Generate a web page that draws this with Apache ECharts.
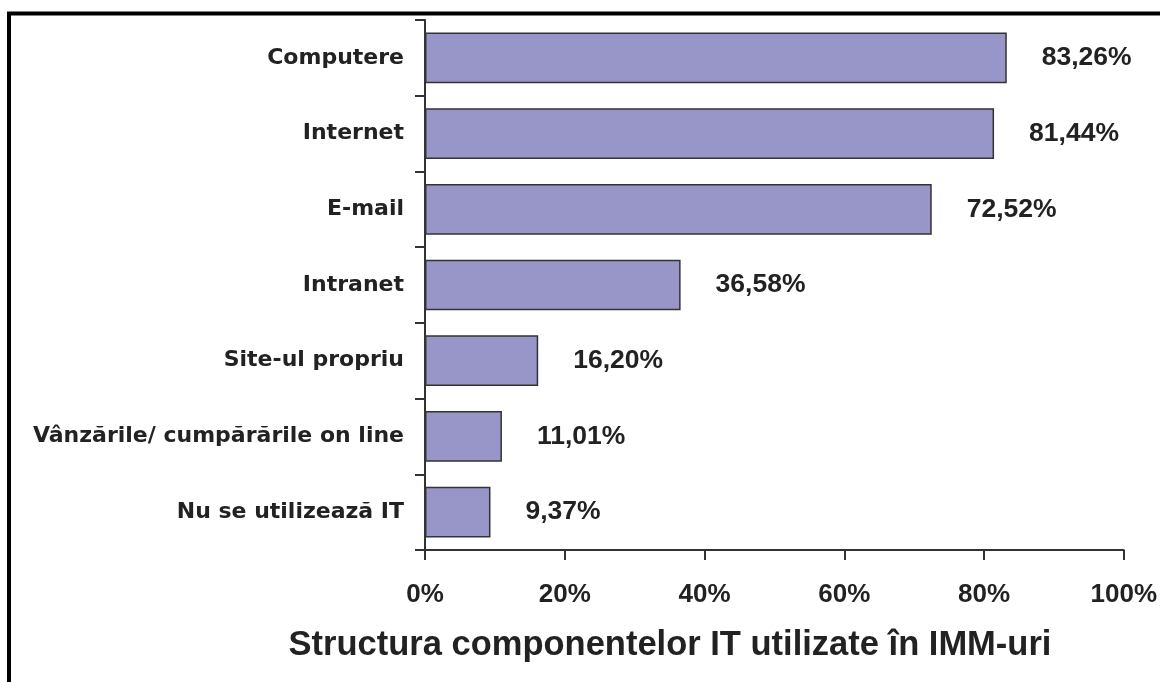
<!DOCTYPE html>
<html>
<head>
<meta charset="utf-8">
<style>
  html, body { margin: 0; padding: 0; background: #fff; }
  #chart { width: 1160px; height: 682px; }
</style>
<script src="https://cdn.jsdelivr.net/npm/echarts@6/dist/echarts.min.js"></script>
</head>
<body>
<div id="chart"></div>
<script>
const categories = ['Computere', 'Internet', 'E-mail', 'Intranet', 'Site-ul propriu', 'Vânzările/ cumpărările on line', 'Nu se utilizează IT']
const shares = [83.26, 81.44, 72.52, 36.58, 16.20, 11.01, 9.37]
const axisTitle = 'Structura componentelor IT utilizate în IMM-uri'

const chart = echarts.init(document.getElementById('chart'))

chart.setOption({
  animation: false,
  backgroundColor: '#fff',
  title: {
    text: axisTitle,
    left: 665,
    top: 623,
    textAlign: 'center',
    textStyle: {
      fontFamily: 'Liberation Sans',
      fontWeight: 'bold',
      fontSize: 34.5,
      color: '#222'
    }
  },
  graphic: [{
    // frame, only left and top edges are visible
    type: 'rect',
    shape: { x: 9, y: 13.5, width: 1400, height: 900 },
    style: { fill: 'none', stroke: '#000', lineWidth: 4 },
    z: 100
  }],
  grid: {
    left: 425,
    right: 29,
    top: 20,
    bottom: 132
  },
  xAxis: {
    type: 'value',
    min: 0,
    max: 100,
    interval: 20,
    axisLine: { show: true, lineStyle: { color: '#333', width: 2 } },
    axisTick: { show: true, length: 10, lineStyle: { color: '#333', width: 2 } },
    splitLine: { show: false },
    axisLabel: {
      margin: 32,
      formatter: '{value}%',
      fontFamily: 'Liberation Sans',
      fontWeight: 'bold',
      fontSize: 26,
      color: '#222'
    }
  },
  yAxis: {
    type: 'category',
    inverse: true,
    data: categories,
    axisLine: { show: true, lineStyle: { color: '#333', width: 2 } },
    axisTick: { show: true, length: 10, lineStyle: { color: '#333', width: 2 } },
    axisLabel: {
      margin: 21,
      fontFamily: 'DejaVu Sans',
      fontWeight: 'bold',
      fontSize: 22,
      color: '#222'
    }
  },
  series: [{
    type: 'bar',
    data: shares,
    barWidth: '67%',
    itemStyle: {
      color: '#9896c8',
      borderColor: '#333',
      borderWidth: 1.5
    },
    label: {
      show: true,
      position: 'right',
      distance: 35,
      formatter: p => p.value.toFixed(2).replace('.', ',') + '%',
      fontFamily: 'Liberation Sans',
      fontWeight: 'bold',
      fontSize: 26.5,
      color: '#222'
    }
  }]
})
</script>
</body>
</html>
